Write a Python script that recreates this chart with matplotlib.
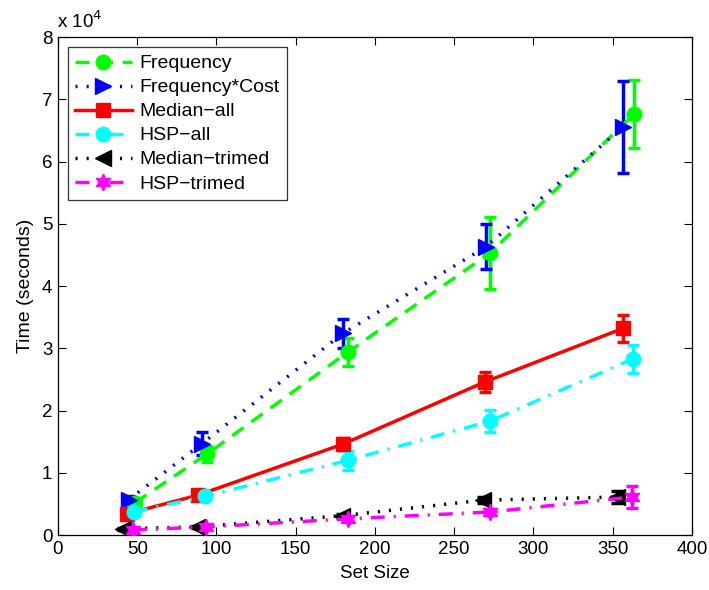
import numpy as np
import matplotlib.pyplot as plt
from matplotlib.ticker import FuncFormatter

plt.rcParams['font.family'] = ['Liberation Sans', 'DejaVu Sans']

# set sizes (slightly offset per series so the error bars stay readable)
x_freq = [48.6, 94, 183, 272.6, 363.4]
x_freq_cost = [44.8, 90.9, 179.8, 270, 356.5]
x_median_all = [43.5, 88.3, 179.8, 269.4, 356.5]
x_hsp_all = [48, 92.7, 183, 272.6, 362.8]
x_median_trim = [41, 87.7, 179, 268, 352.7]
x_hsp_trim = [47.3, 93.4, 183, 272.6, 362]

# mean run time in seconds and std deviation
freq = [5200, 13000, 29400, 45300, 67600]
freq_err = [500, 1300, 2200, 5800, 5500]
freq_cost = [5700, 14700, 32400, 46300, 65600]
freq_cost_err = [500, 1800, 2300, 3600, 7400]
median_all = [3400, 6400, 14600, 24600, 33200]
median_all_err = [300, 500, 1000, 1600, 2200]
hsp_all = [3700, 6200, 12000, 18300, 28300]
hsp_all_err = [300, 500, 1500, 1800, 2200]
median_trim = [1000, 1300, 3100, 5600, 6100]
median_trim_err = [200, 200, 300, 500, 1000]
hsp_trim = [800, 1300, 2600, 3700, 6100]
hsp_trim_err = [200, 200, 400, 500, 1700]

labels = ['Frequency', 'Frequency*Cost', 'Median\u2212all', 'HSP\u2212all',
          'Median\u2212trimed', 'HSP\u2212trimed']

dashed = (0, (4, 2.8))
dotted = (0, (0.6, 2.6))
dashdot = (0, (4, 2.6, 0.6, 2.6))

series = [
    (x_freq, freq, freq_err, (0, 1, 0), dashed, 'o', 10.5),
    (x_freq_cost, freq_cost, freq_cost_err, (0, 0, 1), dotted, '>', 11),
    (x_median_all, median_all, median_all_err, (1, 0, 0), '-', 's', 10),
    (x_hsp_all, hsp_all, hsp_all_err, (0, 1, 1), dashdot, 'o', 10.5),
    (x_median_trim, median_trim, median_trim_err, (0, 0, 0), dotted, '<', 11),
    (x_hsp_trim, hsp_trim, hsp_trim_err, (1, 0, 1), dashdot, (6, 1, 0), 12),
]

fig = plt.figure(figsize=(7.09, 5.90), dpi=100)
ax = fig.add_axes([0.0818, 0.0932, 0.8942, 0.844])

handles = []
for (xs, ys, es, col, ls, mk, ms), lab in zip(series, labels):
    ax.errorbar(xs, ys, yerr=es, fmt='none', ecolor=col, elinewidth=2.5,
                capsize=4, capthick=2.5, zorder=2)
    h, = ax.plot(xs, ys, color=col, linestyle=ls, linewidth=2.5,
                 marker=mk, markersize=ms, markerfacecolor=col,
                 markeredgecolor=col, label=lab, zorder=3)
    handles.append(h)

ax.set_xlim(0, 400)
ax.set_ylim(0, 80000)
ax.set_xticks(np.arange(0, 401, 50))
ax.set_yticks(np.arange(0, 80001, 10000))
ax.yaxis.set_major_formatter(FuncFormatter(lambda v, p: '%g' % (v / 1e4)))
ax.tick_params(direction='in', top=True, right=True, length=6, width=0.8,
               labelsize=13.5, pad=4)
for s in ax.spines.values():
    s.set_linewidth(0.9)

ax.set_xlabel('Set Size', fontsize=13.5, labelpad=5)
ax.set_ylabel('Time (seconds)', fontsize=14, labelpad=6)
fig.text(0.081, 1 - 28 / 590, r'x 10$^{4}$', fontsize=13.5,
         va='baseline', ha='left')

leg = ax.legend(handles=handles, loc='upper left',
                bbox_to_anchor=(67.5 / 709, 1 - 47 / 590),
                bbox_transform=fig.transFigure, fontsize=14,
                frameon=True, fancybox=False, edgecolor='black',
                borderpad=0.4, labelspacing=0.33, handlelength=2.9,
                handletextpad=0.4, borderaxespad=0)
leg.get_frame().set_linewidth(0.9)

fig.savefig('out.png', dpi=100)
